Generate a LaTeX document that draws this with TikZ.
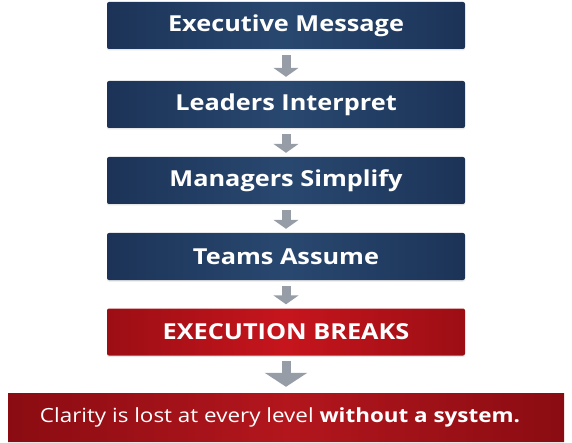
\documentclass[tikz,border=0pt]{standalone}
\usepackage{fontspec}
\setmainfont[FakeStretch=1.15]{Open Sans}
\usepackage{xcolor}
\usepackage{tikz}
\usetikzlibrary{arrows.meta,shadows}
\definecolor{navyedge}{HTML}{1C3357}
\definecolor{navymid}{HTML}{294870}
\definecolor{rededge}{HTML}{9C0E14}
\definecolor{redmid}{HTML}{C6151D}
\definecolor{darkredge}{HTML}{8A0C12}
\definecolor{darkredmid}{HTML}{B3161D}
\definecolor{arrowgray}{HTML}{979DA6}

\begin{document}
\begin{tikzpicture}[x=1pt,y=-1pt,
    levelbox/.style={rectangle, rounded corners=2pt, minimum width=358pt, minimum height=47pt,
        left color=navyedge, right color=navyedge, middle color=navymid,
        text=white, font=\fontsize{22}{26}\selectfont\bfseries,
        drop shadow={opacity=0.2, shadow xshift=0pt, shadow yshift=-1.5pt}},
    breakbox/.style={levelbox, left color=rededge, right color=rededge, middle color=redmid},
    summarybox/.style={levelbox, rounded corners=0pt, minimum width=556pt, minimum height=48pt,
        left color=darkredge, right color=darkredge, middle color=darkredmid,
        font=\fontsize{19.5}{23}\selectfont},
    flowarrow/.style={arrowgray, line width=9pt, -{Triangle[width=25pt,length=9pt]}},
    bigarrow/.style={flowarrow, -{Triangle[width=42pt,length=14pt]}}]
        \useasboundingbox (0,0) rectangle (572,443);
        % Chain of levels
        \node[levelbox] (exec) at (286,25.5) {Executive Message};
        \node[levelbox] (lead) at (286,104.5) {Leaders Interpret};
        \node[levelbox] (mgr) at (286,180.5) {Managers Simplify};
        \node[levelbox] (team) at (286,256.5) {Teams Assume};
        \node[breakbox] (brk) at (286,332) {EXECUTION BREAKS};
        
        % Summary bar
        \node[summarybox] (sum) at (286,417) {Clarity is lost at every level \textbf{without a system.}\hspace*{12pt}};
        
        % Arrows between levels
        \draw[flowarrow] ([yshift=-6pt]exec.south) -- ([yshift=4pt]lead.north);
        \draw[flowarrow] ([yshift=-6pt]lead.south) -- ([yshift=4pt]mgr.north);
        \draw[flowarrow] ([yshift=-6pt]mgr.south) -- ([yshift=4pt]team.north);
        \draw[flowarrow] ([yshift=-6pt]team.south) -- ([yshift=4pt]brk.north);
        \draw[bigarrow] ([yshift=-5pt]brk.south) -- ([yshift=6pt]sum.north);
    \end{tikzpicture}
\end{document}
